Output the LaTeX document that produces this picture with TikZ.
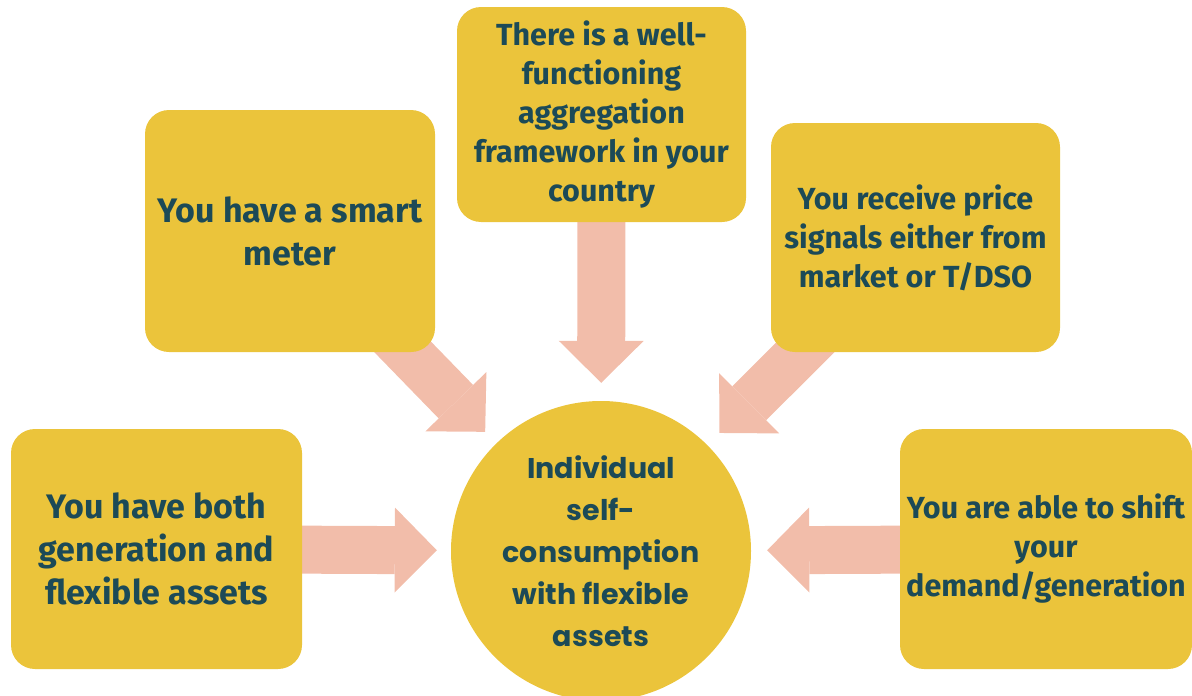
\documentclass[tikz,border=0pt]{standalone}
\usepackage{fontspec}
\usetikzlibrary{arrows.meta,backgrounds}
\setmainfont{Fira Sans}
\newfontfamily\corefont{Poppins}
\definecolor{mustard}{HTML}{EBC43B}
\definecolor{deepteal}{HTML}{1C4A57}
\definecolor{arrowpink}{HTML}{F2BDAA}
\begin{document}
\begin{tikzpicture}[x=1pt, y=-1pt,
        card/.style={rectangle, rounded corners=24pt, fill=mustard, text=deepteal, align=center, inner sep=0pt},
        big/.style={font=\bfseries\fontsize{34}{43}\selectfont},
        small/.style={font=\bfseries\fontsize{30.5}{39}\selectfont},
        flow/.style={draw=arrowpink, line width=48pt, -{Triangle[length=42pt, width=85pt, line width=0pt]}}]
        \clip (0,0) rectangle (1192,696);
        \node[card, big, minimum width=290pt, minimum height=242pt] (meter) at (290,231) {You have a smart\\meter};
        \node[card, small, minimum width=289pt, minimum height=215pt] (aggr) at (601.5,114.5) {There is a well-\\functioning\\aggregation\\framework in your\\country};
        \node[card, small, minimum width=289pt, minimum height=229pt] (price) at (915.5,237.5) {You receive price\\signals either from\\market or T/DSO};
        \node[card, big, minimum width=291pt, minimum height=240pt] (both) at (156.5,549) {You have both\\generation and\\flexible assets};
        \node[card, small, minimum width=292pt, minimum height=240pt] (shift) at (1046,549) {You are able to shift\\your\\demand/generation};
        \node[circle, fill=mustard, text=deepteal, minimum size=300pt, inner sep=0pt, align=center,
            font=\corefont\bfseries\fontsize{28.5}{42}\selectfont] (core) at (601,551)
            {Individual\\self-\\consumption\\with flexible\\assets};
        % block arrows sit behind the cards
        \begin{pgfonlayer}{background}
            \foreach \src/\gap in {meter/16, aggr/18, price/17, both/14, shift/16}
                \draw[flow, shorten >=\gap pt] (\src.center) -- (core);
        \end{pgfonlayer}
    \end{tikzpicture}
\end{document}
